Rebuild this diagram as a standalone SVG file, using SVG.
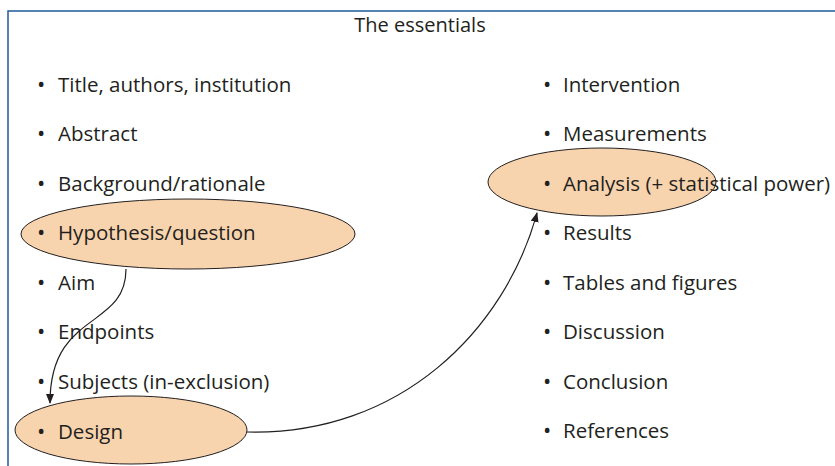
<svg xmlns="http://www.w3.org/2000/svg" width="835" height="466" viewBox="0 0 835 466">
<style>
.t{font-family:"Open Sans","Liberation Sans",sans-serif;font-size:20.5px;fill:#231f20}
.b{font-size:22px}
.e{fill:#f8d4ae;stroke:#231f20;stroke-width:1}
.c{fill:none;stroke:#231f20;stroke-width:1.2}
</style>
<defs>
<marker id="ah" markerWidth="10" markerHeight="10" refX="9" refY="5" orient="auto" markerUnits="userSpaceOnUse">
<path d="M0,1 L10,5 L0,9 Z" fill="#231f20"/>
</marker>
</defs>
<rect width="835" height="466" fill="#fff"/>
<rect x="8" y="11" width="840" height="470" fill="none" stroke="#1f5a9c" stroke-width="1.5"/>
<text class="t" x="420" y="32" text-anchor="middle" style="font-size:20px">The essentials</text>
<g id="n-hypothesis"><ellipse class="e" cx="188" cy="234" rx="167" ry="35"/></g>
<g id="n-design"><ellipse class="e" cx="131" cy="430" rx="116" ry="34"/></g>
<g id="n-analysis"><ellipse class="e" cx="602" cy="182" rx="114" ry="34"/></g>
<g id="left-list" class="t">
<text x="37" y="92"><tspan class="b">•</tspan><tspan x="58">Title, authors, institution</tspan></text>
<text x="37" y="141"><tspan class="b">•</tspan><tspan x="58">Abstract</tspan></text>
<text x="37" y="191"><tspan class="b">•</tspan><tspan x="58">Background/rationale</tspan></text>
<text x="37" y="240"><tspan class="b">•</tspan><tspan x="58">Hypothesis/question</tspan></text>
<text x="37" y="290"><tspan class="b">•</tspan><tspan x="58">Aim</tspan></text>
<text x="37" y="339"><tspan class="b">•</tspan><tspan x="58">Endpoints</tspan></text>
<text x="37" y="389"><tspan class="b">•</tspan><tspan x="58">Subjects (in-exclusion)</tspan></text>
<text x="37" y="439"><tspan class="b">•</tspan><tspan x="58">Design</tspan></text>
</g>
<g id="right-list" class="t">
<text x="543" y="92"><tspan class="b">•</tspan><tspan x="563">Intervention</tspan></text>
<text x="543" y="141"><tspan class="b">•</tspan><tspan x="563">Measurements</tspan></text>
<text x="543" y="191"><tspan class="b">•</tspan><tspan x="563">Analysis (+ statistical power)</tspan></text>
<text x="543" y="240"><tspan class="b">•</tspan><tspan x="563">Results</tspan></text>
<text x="543" y="290"><tspan class="b">•</tspan><tspan x="563">Tables and figures</tspan></text>
<text x="543" y="339"><tspan class="b">•</tspan><tspan x="563">Discussion</tspan></text>
<text x="543" y="389"><tspan class="b">•</tspan><tspan x="563">Conclusion</tspan></text>
<text x="543" y="438"><tspan class="b">•</tspan><tspan x="563">References</tspan></text>
</g>
<g id="connectors">
<path class="c" d="M126,269 C126,330 50,310 50,403" marker-end="url(#ah)"/>
<path class="c" d="M247,432 C400,436 505,330 537,213" marker-end="url(#ah)"/>
</g>
</svg>
